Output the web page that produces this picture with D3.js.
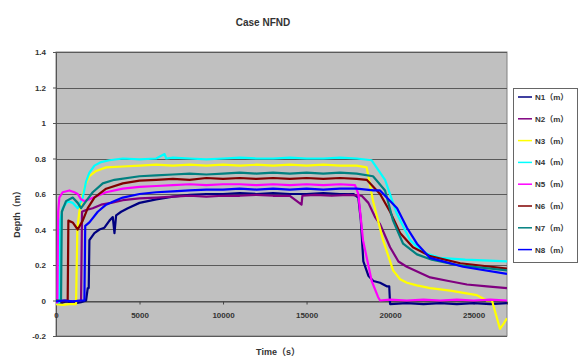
<!DOCTYPE html>
<html>
<head>
<meta charset="utf-8">
<script src="https://cdn.jsdelivr.net/npm/d3@7"></script>
<style>
  body { margin: 0; background: #fff; }
  svg text { font-family: "Liberation Sans", Arial, "Noto Sans CJK JP", sans-serif; font-weight: bold; fill: #333; }
</style>
</head>
<body>
<svg width="580" height="361"></svg>
<script>
// tick labels
var xTicks = [0, 5000, 10000, 15000, 20000, 25000];
var yTicks = [-0.2, 0, 0.2, 0.4, 0.6, 0.8, 1, 1.2, 1.4];

var seriesNames = ["N1（m）", "N2（m）", "N3（m）", "N4（m）", "N5（m）", "N6（m）", "N7（m）", "N8（m）"];
var seriesColors = ["#000080", "#800080", "#ffff00", "#00ffff", "#ff00ff", "#800000", "#008080", "#0000ff"];

// [time (s), depth (m)]
var n1 = [[0,-0.01],[300,-0.015],[600,-0.005],[900,-0.01],[1200,-0.015],[1500,-0.01],[1800,0.0],[1900,0.07],[1960,0.07],[2000,0.34],[2300,0.38],[2600,0.4],[2900,0.41],[3200,0.45],[3400,0.47],[3500,0.38],[3600,0.48],[3900,0.5],[4300,0.52],[5000,0.55],[6000,0.57],[7000,0.585],[8000,0.595],[9000,0.6],[10000,0.6],[11000,0.605],[12000,0.6],[13000,0.605],[14000,0.6],[15000,0.6],[16000,0.605],[17000,0.6],[17800,0.6],[18100,0.58],[18250,0.45],[18400,0.22],[18700,0.14],[19000,0.11],[19400,0.1],[19800,0.08],[19950,0.08],[20000,-0.02],[21000,-0.015],[22000,-0.02],[23000,-0.015],[24000,-0.02],[25000,-0.015],[26000,-0.02],[27000,-0.015]];
var n2 = [[0,-0.005],[500,0.0],[1000,-0.005],[1500,0.0],[1560,0.5],[1800,0.51],[2200,0.52],[2700,0.54],[3300,0.55],[4000,0.565],[5000,0.575],[6000,0.58],[7000,0.585],[8000,0.59],[9000,0.585],[10000,0.59],[11000,0.59],[12000,0.595],[13000,0.59],[14000,0.59],[14700,0.54],[14750,0.59],[15500,0.595],[16500,0.59],[17500,0.595],[18300,0.59],[18700,0.55],[19100,0.47],[19400,0.43],[20000,0.3],[20500,0.22],[21000,0.19],[22400,0.13],[23500,0.11],[24600,0.09],[25800,0.08],[27000,0.07]];
var n3 = [[0,-0.02],[400,-0.025],[800,-0.02],[1200,-0.02],[1280,0.41],[1400,0.5],[1550,0.58],[1750,0.65],[2000,0.7],[2400,0.73],[3000,0.75],[4000,0.755],[5000,0.76],[6000,0.765],[7000,0.76],[8000,0.765],[9000,0.76],[10000,0.765],[11000,0.76],[12000,0.765],[13000,0.76],[14000,0.765],[15000,0.76],[16000,0.765],[17000,0.76],[18000,0.76],[18600,0.75],[18980,0.56],[19580,0.34],[20180,0.17],[20600,0.12],[21010,0.1],[21600,0.085],[22400,0.07],[23600,0.056],[25200,0.03],[25800,0.0],[26100,0.0],[26580,-0.16],[26800,-0.13],[27000,-0.1]];
var n4 = [[0,-0.01],[200,-0.01],[260,0.45],[400,0.52],[700,0.56],[1000,0.55],[1300,0.52],[1600,0.58],[1800,0.67],[2000,0.72],[2300,0.76],[2700,0.78],[3200,0.79],[4000,0.8],[5000,0.795],[6000,0.8],[6500,0.825],[6600,0.8],[7000,0.805],[8000,0.8],[9000,0.795],[10000,0.8],[11000,0.805],[12000,0.8],[13000,0.8],[14000,0.805],[15000,0.8],[16000,0.8],[17000,0.805],[18000,0.8],[18900,0.79],[19700,0.68],[20400,0.49],[21200,0.34],[22000,0.27],[23000,0.24],[24500,0.23],[27000,0.22]];
var n5 = [[0,-0.01],[80,-0.01],[130,0.5],[200,0.58],[400,0.61],[800,0.62],[1100,0.61],[1300,0.6],[1500,0.57],[1700,0.56],[2000,0.57],[2500,0.59],[3000,0.61],[4000,0.63],[5000,0.64],[6000,0.645],[7000,0.65],[8000,0.655],[9000,0.65],[10000,0.655],[11000,0.655],[12000,0.65],[13000,0.655],[14000,0.65],[15000,0.655],[16000,0.65],[17000,0.655],[17900,0.65],[18100,0.6],[18380,0.34],[18900,0.11],[19280,0.02],[19400,0.0],[20000,0.005],[21000,0.0],[22000,0.005],[23000,0.0],[24000,0.005],[25000,0.0],[26000,0.005],[27000,0.0]];
var n6 = [[0,0.0],[400,-0.005],[700,0.0],[740,0.45],[1000,0.44],[1300,0.4],[1600,0.45],[1900,0.52],[2300,0.58],[3000,0.63],[4000,0.66],[5000,0.675],[6000,0.68],[7000,0.685],[8000,0.68],[9000,0.69],[10000,0.685],[11000,0.69],[12000,0.685],[13000,0.69],[14000,0.685],[15000,0.69],[16000,0.685],[17000,0.69],[18000,0.685],[18600,0.68],[19400,0.6],[20000,0.5],[20600,0.38],[21370,0.3],[22400,0.25],[24200,0.21],[27000,0.18]];
var n7 = [[0,0.0],[300,0.0],[350,0.5],[600,0.56],[1000,0.58],[1300,0.55],[1500,0.52],[1800,0.56],[2200,0.61],[2800,0.66],[3500,0.68],[5000,0.7],[6000,0.705],[7000,0.71],[8000,0.715],[9000,0.71],[10000,0.715],[11000,0.72],[12000,0.715],[13000,0.72],[14000,0.715],[15000,0.72],[16000,0.715],[17000,0.72],[18000,0.715],[18980,0.7],[19700,0.62],[20180,0.45],[20780,0.32],[21610,0.26],[22500,0.23],[24000,0.2],[27000,0.17]];
var n8 = [[0,-0.005],[500,0.0],[1000,-0.005],[1500,0.0],[1700,0.0],[1750,0.42],[2000,0.44],[2500,0.5],[3000,0.54],[3500,0.56],[4000,0.58],[5000,0.6],[6000,0.61],[7000,0.615],[8000,0.62],[9000,0.625],[10000,0.625],[11000,0.63],[12000,0.625],[13000,0.63],[14000,0.625],[15000,0.63],[16000,0.625],[17000,0.63],[18000,0.63],[19000,0.62],[19400,0.62],[20420,0.52],[21010,0.41],[21610,0.32],[22390,0.24],[24370,0.19],[27000,0.15]];

var allSeries = [n1, n2, n3, n4, n5, n6, n7, n8];

var svg = d3.select("svg");
var plot = { left: 56, right: 507, top: 52, bottom: 336 };

var x = d3.scaleLinear().domain([0, 27000]).range([plot.left, plot.right]);
var y = d3.scaleLinear().domain([-0.2, 1.4]).range([plot.bottom, plot.top]);

// title
svg.append("text")
    .attr("x", 263).attr("y", 26)
    .attr("text-anchor", "middle")
    .style("font-size", "10px")
    .text("Case NFND");

// plot area
svg.append("rect")
    .attr("x", plot.left).attr("y", plot.top)
    .attr("width", plot.right - plot.left)
    .attr("height", plot.bottom - plot.top)
    .attr("fill", "#c0c0c0")
    .attr("stroke", "#808080");

// gridlines
svg.append("g")
    .selectAll("line")
    .data(yTicks)
    .enter().append("line")
    .attr("x1", plot.left).attr("x2", plot.right)
    .attr("y1", function (d) { return Math.round(y(d)) + 0.5; })
    .attr("y2", function (d) { return Math.round(y(d)) + 0.5; })
    .attr("stroke", "#5a5a5a")
    .attr("stroke-width", 1);

// y axis
var yAxis = svg.append("g")
    .attr("transform", "translate(" + plot.left + ",0)")
    .call(d3.axisLeft(y).tickValues(yTicks).tickSize(3).tickPadding(7)
        .tickFormat(function (d) { return String(d); }));
yAxis.select(".domain").attr("stroke", "#555");
yAxis.selectAll(".tick line").attr("stroke", "#555");
yAxis.selectAll("text").style("font-size", "8px").attr("fill", "#333");

// x axis crosses at 0
var xAxis = svg.append("g")
    .attr("transform", "translate(0," + (Math.round(y(0)) + 0.5) + ")")
    .call(d3.axisBottom(x).tickValues(xTicks).tickSize(3).tickPadding(8)
        .tickFormat(function (d) { return String(d); }));
xAxis.select(".domain").attr("stroke", "#444");
xAxis.selectAll(".tick line").attr("stroke", "#444");
xAxis.selectAll("text").style("font-size", "8px").attr("fill", "#333");

// axis titles
svg.append("text")
    .attr("transform", "translate(20,212) rotate(-90)")
    .attr("text-anchor", "middle")
    .style("font-size", "9px")
    .text("Depth（m）");

svg.append("text")
    .attr("x", 278).attr("y", 355)
    .attr("text-anchor", "middle")
    .style("font-size", "9px")
    .text("Time（s）");

// lines
var line = d3.line()
    .x(function (d) { return x(d[0]); })
    .y(function (d) { return y(d[1]); });

svg.append("clipPath").attr("id", "clip")
    .append("rect")
    .attr("x", plot.left).attr("y", plot.top)
    .attr("width", plot.right - plot.left)
    .attr("height", plot.bottom - plot.top);

var lines = svg.append("g").attr("clip-path", "url(#clip)");
for (var i = 0; i < allSeries.length; i++) {
    lines.append("path")
        .datum(allSeries[i])
        .attr("fill", "none")
        .attr("stroke", seriesColors[i])
        .attr("stroke-width", 2.2)
        .attr("stroke-linejoin", "round")
        .attr("d", line);
}

// legend
var legend = svg.append("g");
legend.append("rect")
    .attr("x", 513.5).attr("y", 88.5)
    .attr("width", 64).attr("height", 174)
    .attr("fill", "#fff")
    .attr("stroke", "#666");

var item = legend.selectAll(".legend")
    .data(seriesNames)
    .enter().append("g")
    .attr("class", "legend")
    .attr("transform", function (d, i) { return "translate(0," + (97 + i * 21.8) + ")"; });
item.append("line")
    .attr("x1", 518).attr("x2", 532)
    .attr("y1", 0).attr("y2", 0)
    .attr("stroke", function (d, i) { return seriesColors[i]; })
    .attr("stroke-width", 1.5);
item.append("text")
    .attr("x", 535).attr("y", 3)
    .style("font-size", "8px")
    .text(function (d) { return d; });
</script>
</body>
</html>
